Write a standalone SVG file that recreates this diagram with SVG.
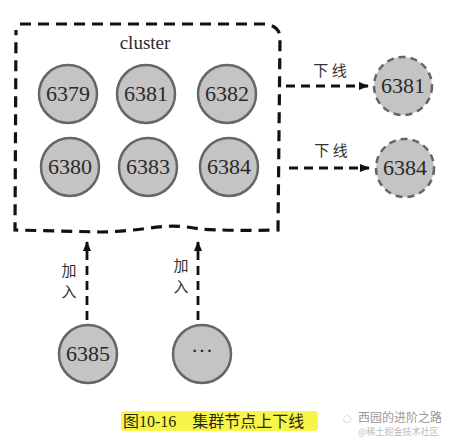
<svg xmlns="http://www.w3.org/2000/svg" width="449" height="439" viewBox="0 0 449 439">
<style>
.n{fill:#c4c4c4;stroke:#666;stroke-width:2.5}
.nd{fill:#c4c4c4;stroke:#666;stroke-width:2.5;stroke-dasharray:7 5}
.t{font-family:"Liberation Serif","Times New Roman","DejaVu Serif",serif;font-size:22px;fill:#2a2a2a;text-anchor:middle}
.lab{font-family:"Noto Sans CJK SC",sans-serif;font-size:15px;fill:#333;text-anchor:middle}
.c{fill:none;stroke:#111;stroke-width:2.8;stroke-dasharray:9 6}
</style>
<defs>
<marker id="ah" markerWidth="10" markerHeight="8" refX="9" refY="4" orient="auto" markerUnits="userSpaceOnUse">
<path d="M0,0 L10,4 L0,8 Z" fill="#111"/>
</marker>
</defs>
<g id="cluster">
<path d="M20,24 L265,24 Q280,26 280,38 L278,230 Q230,231 200,229 Q175,224 150,228 Q120,232 100,232 L15,230 L16,30" fill="none" stroke="#111" stroke-width="3.2" stroke-dasharray="11 7"/>
<text class="t" x="145" y="49" style="font-size:19px">cluster</text>
</g>
<g id="n6379"><circle class="n" cx="68" cy="94" r="29"/><text class="t" x="68" y="101">6379</text></g>
<g id="n6381"><circle class="n" cx="146" cy="94" r="29"/><text class="t" x="146" y="101">6381</text></g>
<g id="n6382"><circle class="n" cx="227" cy="94" r="29"/><text class="t" x="227" y="101">6382</text></g>
<g id="n6380"><circle class="n" cx="70" cy="167" r="29"/><text class="t" x="70" y="174">6380</text></g>
<g id="n6383"><circle class="n" cx="148" cy="167" r="29"/><text class="t" x="148" y="174">6383</text></g>
<g id="n6384"><circle class="n" cx="229" cy="167" r="29"/><text class="t" x="229" y="174">6384</text></g>
<g id="off6381"><circle class="nd" cx="403" cy="86" r="29"/><text class="t" x="403" y="93">6381</text></g>
<g id="off6384"><circle class="nd" cx="405" cy="168" r="29"/><text class="t" x="405" y="175">6384</text></g>
<g id="n6385"><circle class="n" cx="88" cy="354" r="29"/><text class="t" x="88" y="361">6385</text></g>
<g id="nmore"><circle class="n" cx="202" cy="354" r="29"/><text class="t" x="202" y="358">···</text></g>
<g id="connectors">
<line class="c" x1="286" y1="86" x2="368" y2="86" marker-end="url(#ah)"/>
<line class="c" x1="289" y1="168" x2="369" y2="168" marker-end="url(#ah)"/>
<line class="c" x1="87" y1="320" x2="87" y2="242" marker-end="url(#ah)"/>
<line class="c" x1="198" y1="320" x2="198" y2="242" marker-end="url(#ah)"/>
<text class="lab" x="330" y="76">下 线</text>
<text class="lab" x="331" y="156">下 线</text>
<text class="lab" x="69" y="276">加</text>
<text class="lab" x="69" y="297">入</text>
<text class="lab" x="181" y="271">加</text>
<text class="lab" x="181" y="292">入</text>
</g>
<g id="caption">
<rect x="121" y="411" width="197" height="20" rx="4" fill="#f8f54a"/>
<text x="123" y="427" font-family="'Liberation Serif','Noto Sans CJK SC',serif" font-size="16" fill="#2a2a10">图10-16　集群节点上下线</text>
<text x="343" y="422" font-family="'DejaVu Sans',sans-serif" font-size="10" fill="#aaa">◌</text>
<text x="358" y="422" font-family="'Noto Sans CJK SC',sans-serif" font-size="12" fill="#999">西园的进阶之路</text>
<text x="358" y="435" font-family="'Noto Sans CJK SC',sans-serif" font-size="9" fill="#bbb">@稀土掘金技术社区</text>
</g>
</svg>
